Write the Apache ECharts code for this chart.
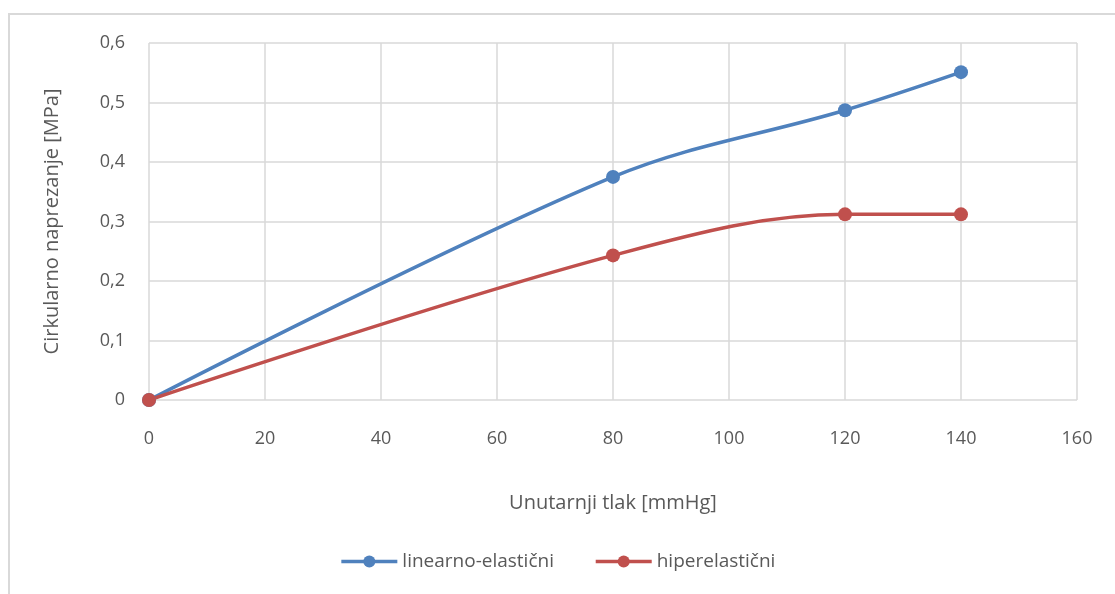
<!DOCTYPE html>
<html>
<head>
<meta charset="utf-8">
<script src="https://cdn.jsdelivr.net/npm/echarts@6/dist/echarts.min.js"></script>
<style>
  html, body { margin: 0; padding: 0; background: #fff; overflow: hidden; }
  #frame { position: absolute; left: 8px; top: 13px; width: 1200px; height: 700px; border: 2px solid #d9d9d9; }
  #chart { position: absolute; left: 0; top: 0; width: 1115px; height: 594px; }
</style>
</head>
<body>
<div id="frame"></div>
<div id="chart"></div>
<script>
// unutarnji tlak [mmHg]
var pressure = [0, 80, 120, 140];
// cirkularno naprezanje [MPa]
var linearElastic = [0, 0.375, 0.487, 0.551];
var hyperElastic = [0, 0.243, 0.312, 0.312];

var seriesNames = ['linearno-elastični', 'hiperelastični'];
var colors = ['#4f81bd', '#c0504d'];

function pairs(xs, ys) {
  return xs.map(function(x, i) { return [x, ys[i]]; });
}

var textColor = '#595959';
var fontFamily = 'Open Sans, Liberation Sans, sans-serif';

var chart = echarts.init(document.getElementById('chart'));

var makeSeries = function(name, data, color) {
  return {
    name: name,
    type: 'line',
    data: data,
    smooth: 0.35,
    symbol: 'circle',
    symbolSize: 14,
    lineStyle: { width: 3.5, color: color },
    itemStyle: { color: color },
    emphasis: { disabled: true }
  };
};

chart.setOption({
  animation: false,
  color: colors,
  textStyle: { fontFamily: fontFamily, color: textColor },
  grid: { left: 149, right: 38, top: 43, bottom: 194 },
  legend: {
    bottom: 18,
    left: 'center',
    itemWidth: 56,
    itemHeight: 15,
    itemGap: 40,
    lineStyle: { width: 3.5 },
    textStyle: { fontSize: 19, color: textColor, fontFamily: fontFamily },
    data: seriesNames
  },
  xAxis: {
    type: 'value',
    min: 0,
    max: 160,
    interval: 20,
    name: 'Unutarnji tlak [mmHg]',
    nameLocation: 'middle',
    nameGap: 93,
    nameTextStyle: { fontSize: 20, color: textColor },
    axisLine: { show: false },
    axisTick: { show: false },
    axisLabel: { fontSize: 18, color: textColor, margin: 30 },
    splitLine: { show: true, lineStyle: { color: '#d9d9d9', width: 1.5 } }
  },
  yAxis: {
    type: 'value',
    min: 0,
    max: 0.6,
    interval: 0.1,
    name: 'Cirkularno naprezanje [MPa]',
    nameLocation: 'middle',
    nameGap: 87,
    nameTextStyle: { fontSize: 20, color: textColor },
    axisLine: { show: false },
    axisTick: { show: false },
    axisLabel: {
      fontSize: 18,
      color: textColor,
      margin: 24,
      formatter: function(v) { return String(Math.round(v * 10) / 10).replace('.', ','); }
    },
    splitLine: { show: true, lineStyle: { color: '#d9d9d9', width: 1.5 } }
  },
  series: [
    makeSeries(seriesNames[0], pairs(pressure, linearElastic), colors[0]),
    makeSeries(seriesNames[1], pairs(pressure, hyperElastic), colors[1])
  ]
});
</script>
</body>
</html>
